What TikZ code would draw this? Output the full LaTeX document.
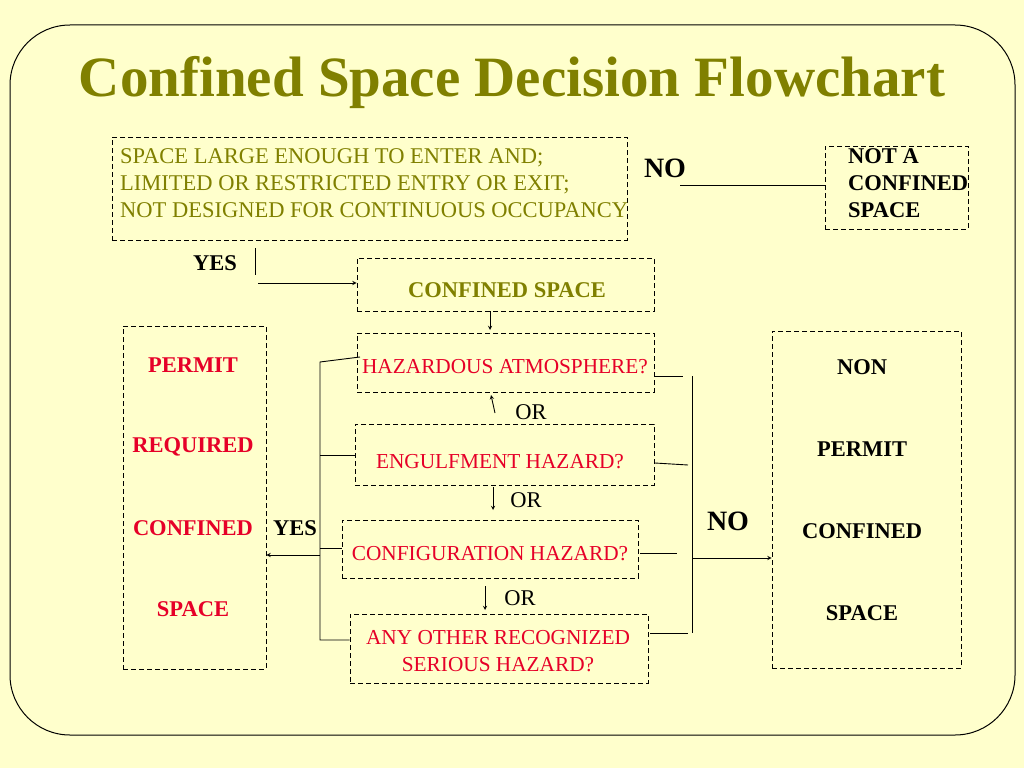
\documentclass[tikz,border=0pt]{standalone}
\usepackage{fontspec}
\setmainfont{Liberation Serif}
\definecolor{bg}{RGB}{255,255,204}
\definecolor{olv}{RGB}{128,128,0}
\definecolor{rd}{RGB}{230,0,40}
\begin{document}
\begin{tikzpicture}[x=1pt,y=-1pt,
 box/.style={draw,dash pattern=on 5pt off 3pt,line width=0.9pt},
 ln/.style={line width=0.9pt},
 ar/.style={line width=0.9pt,-stealth},
 t/.style={font=\fontsize{22.5}{27}\selectfont,inner sep=0pt},
 r/.style={font=\fontsize{21.3}{27}\selectfont,inner sep=0pt,text=rd},
 b/.style={font=\fontsize{22.5}{27}\selectfont\bfseries,inner sep=0pt}]
\fill[bg] (0,0) rectangle (1024,768);
\useasboundingbox (0,0) rectangle (1024,768);
\draw[line width=1pt,rounded corners=60pt] (10,25) rectangle (1015,735);
\node[font=\fontsize{57}{64}\selectfont\bfseries,text=olv] (title) at (512,82) {Confined Space Decision Flowchart};
% boxes
\node[box,minimum width=515,minimum height=103] (q) at (369.5,188.5) {};
\node[t,text=olv,align=left,anchor=north west] (qt) at (120,148) {SPACE LARGE ENOUGH TO ENTER AND;\\LIMITED OR RESTRICTED ENTRY OR EXIT;\\NOT DESIGNED FOR CONTINUOUS OCCUPANCY};
\node[box,minimum width=143,minimum height=83] (nc) at (896.5,187.5) {};
\node[b,align=left,anchor=north west] (nct) at (848,148) {NOT A\\CONFINED\\SPACE};
\node[b,font=\fontsize{28}{30}\selectfont\bfseries] (no1) at (665,168) {NO};
\coordinate (n1) at (680,185);
\draw[ln] (n1) -- (nc.west|-n1);
\node[b] (yes1) at (215,263) {YES};
\coordinate (y1a) at (255,248); \coordinate (y1b) at (255,275);
\draw[ln] (y1a) -- (y1b);
\coordinate (y1c) at (258,283);
\node[box,minimum width=297,minimum height=53] (cs) at (505.5,284.5) {};
\node[b,text=olv] (cst) at (507,290) {CONFINED SPACE};
\draw[ar] (y1c) -- (cs.west|-y1c);
\node[box,minimum width=297,minimum height=59] (h1) at (505.5,362.5) {};
\node[r] (h1t) at (505,367) {HAZARDOUS ATMOSPHERE?};
\draw[ar] (490,311) -- (490,330);
\node[box,minimum width=299,minimum height=61] (h2) at (504.5,454.5) {};
\node[r] (h2t) at (500,462) {ENGULFMENT HAZARD?};
\node[box,minimum width=296,minimum height=58] (h3) at (490,549) {};
\node[r] (h3t) at (490,554) {CONFIGURATION HAZARD?};
\node[box,minimum width=298,minimum height=69] (h4) at (499,648.5) {};
\node[r,align=center] (h4t) at (498,651) {ANY OTHER RECOGNIZED\\SERIOUS HAZARD?};
\node[box,minimum width=143,minimum height=343] (pr) at (194.5,497.5) {};
\foreach \s/\y in {PERMIT/365,REQUIRED/447,CONFINED/528,SPACE/609} \node[b,text=rd] at (193,\y) {\s};
\node[box,minimum width=189,minimum height=337] (np) at (866.5,499.5) {};
\foreach \s/\y in {NON/367,PERMIT/449,CONFINED/531,SPACE/613} \node[b] at (862,\y) {\s};
% OR arrows
\draw[ar] (495,413) -- (491,395);
\node[t] (or1) at (531,412) {OR};
\draw[ar] (493,487) -- (493,510);
\node[t] (or2) at (526,500) {OR};
\draw[ar] (485,586) -- (485,610);
\node[t] (or3) at (520,598) {OR};
% left bracket
\draw[ln] (360,357) -- (320,362) -- (320,640) -- (h4.west|-0,640);
\draw[ln] (320,455) -- (h2.west|-0,455);
\draw[ln] (320,548) -- (h3.west|-0,548);
\draw[ar] (320,555) -- (pr.east|-0,555);
\node[b] (yes2) at (295,528) {YES};
% right bracket
\draw[ln] (655,376) -- (683,376);
\draw[ln] (655,463) -- (688,465);
\draw[ln] (640,553) -- (677,553);
\draw[ln] (650,633) -- (688,633);
\draw[ln] (692,376) -- (692,633);
\draw[ar] (692,558) -- (np.west|-0,558);
\node[b,font=\fontsize{28}{30}\selectfont\bfseries] (no2) at (728,521) {NO};
\end{tikzpicture}
\end{document}
